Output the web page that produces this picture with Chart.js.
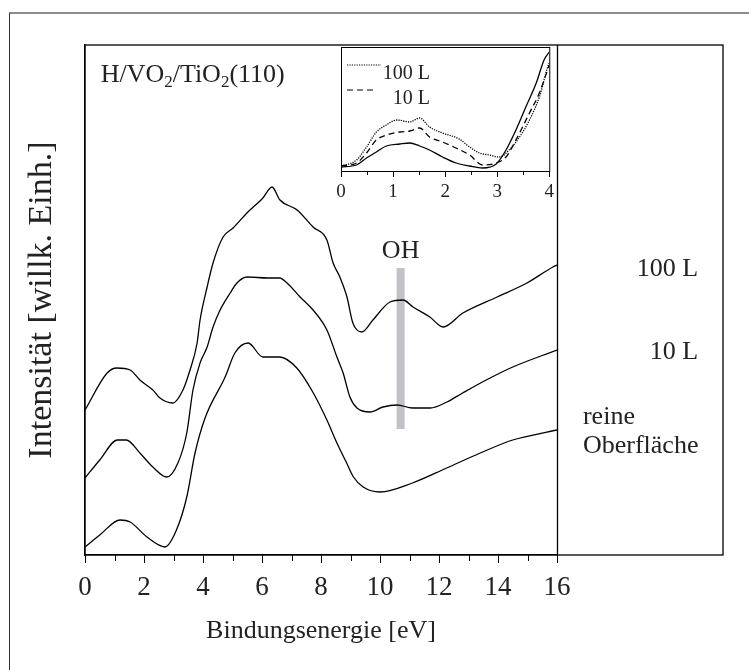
<!DOCTYPE html>
<html>
<head>
<meta charset="utf-8">
<script src="https://cdn.jsdelivr.net/npm/chart.js@4.4.1/dist/chart.umd.min.js"></script>
<style>
  body { margin: 0; background: #fff; }
  #wrap { position: relative; width: 749px; height: 670px; overflow: hidden; }
  #frame { position: absolute; left: 9px; top: 12px; right: 0; bottom: 0;
           border-top: 2px solid #8c8c8c; border-left: 1px solid #333; }
  #main { position: absolute; left: 0; top: 0; }
  #inset { position: absolute; left: 330px; top: 40px; }
</style>
</head>
<body>
<div id="wrap">
  <div id="frame"></div>
  <canvas id="main" width="749" height="670"></canvas>
  <canvas id="inset" width="228" height="170"></canvas>
</div>
<script>
// main spectra (energy in eV, intensity in arb. units, curves already offset)
const energyClean = [0, 0.5, 1.19, 1.53, 2.1, 2.71, 3.1, 3.45, 3.73, 4.07, 4.75, 5.08, 5.53, 6.03, 6.6, 7.18, 7.74, 8.2, 8.54, 8.87, 9.1, 9.43, 10.0, 11.1, 12.26, 13.4, 14.5, 16];
const intensityClean = [8, 20, 35, 33, 18, 8, 25, 58, 102, 137, 178, 202, 212, 198, 198, 187, 162, 135, 112, 92, 78, 68, 63, 72, 87, 102, 115, 125];

const energy10L = [0, 0.5, 1.1, 1.4, 1.86, 2.3, 2.77, 3.15, 3.45, 3.66, 3.9, 4.14, 4.34, 4.58, 4.92, 5.15, 5.49, 6.2, 6.6, 6.85, 7.29, 7.73, 8.2, 8.54, 8.75, 8.98, 9.22, 9.66, 10.1, 10.58, 11.1, 11.7, 12.27, 12.8, 13.6, 14.5, 16];
const intensity10L = [77, 95, 115, 115, 102, 88, 78, 92, 122, 165, 192, 208, 228, 245, 262, 272, 278, 277, 277, 272, 258, 245, 225, 198, 182, 158, 147, 143, 148, 150, 147, 147, 153, 162, 175, 188, 205];

const energy100L = [0, 0.75, 1.08, 1.53, 1.86, 2.3, 2.54, 2.98, 3.32, 3.56, 3.8, 3.9, 4.14, 4.34, 4.68, 5.02, 5.49, 6.03, 6.34, 6.61, 7.19, 7.73, 8.2, 8.41, 8.64, 8.88, 9.08, 9.39, 9.76, 10.34, 10.78, 11.12, 11.69, 12.14, 12.81, 13.97, 14.98, 15.86, 16];
const intensity100L = [145, 182, 187, 185, 175, 165, 157, 152, 165, 185, 212, 235, 268, 292, 318, 327, 342, 357, 368, 355, 345, 328, 315, 292, 278, 258, 232, 223, 235, 253, 255, 248, 238, 228, 242, 258, 272, 288, 290];

const xMajorTicks = [0, 2, 4, 6, 8, 10, 12, 14, 16];
const xMinorTicks = [1, 3, 5, 7, 9, 11, 13, 15];
const labelPanelEnd = 21.63; // right edge of the label panel, in eV units

// OH marker (energy, intensity range)
const ohEnergy = 10.7;
const ohRange = [126, 287];

// inset: valence band region, not offset
const insetEnergyClean = [0, 0.3, 0.49, 0.68, 0.87, 1.13, 1.32, 1.51, 1.7, 1.95, 2.21, 2.47, 2.72, 2.98, 3.17, 3.36, 3.55, 3.75, 3.9, 4];
const insetClean = [4, 6, 13, 19, 25, 27, 28, 25, 21, 14, 8, 5, 3, 7, 21, 41, 64, 88, 111, 119];
const insetEnergy10L = [0, 0.3, 0.49, 0.68, 0.87, 1.13, 1.32, 1.51, 1.7, 1.95, 2.21, 2.47, 2.72, 2.98, 3.17, 3.36, 3.62, 3.81, 4];
const inset10L = [5, 8, 18, 31, 36, 39, 40, 43, 34, 29, 23, 16, 6, 8, 14, 31, 58, 78, 106];
const insetEnergy100L = [0, 0.3, 0.49, 0.68, 0.87, 1.07, 1.32, 1.51, 1.7, 1.95, 2.27, 2.47, 2.66, 2.85, 3.04, 3.23, 3.43, 3.62, 3.81, 3.97, 4];
const inset100L = [5, 11, 24, 39, 46, 51, 49, 53, 44, 38, 32, 24, 18, 16, 14, 21, 34, 51, 74, 104, 108];
const insetMajorTicks = [0, 1, 2, 3, 4];
const insetMinorTicks = [0.5, 1.5, 2.5, 3.5];

const serif = '"Liberation Serif", "Times New Roman", serif';

function pts(xs, ys) {
  return xs.map((x, i) => ({ x: x, y: ys[i] }));
}

function lineSet(label, xs, ys, dash) {
  return {
    label: label,
    data: pts(xs, ys),
    borderColor: '#000',
    borderWidth: 1.3,
    borderDash: dash || [],
    pointRadius: 0,
    fill: false,
    cubicInterpolationMode: 'monotone'
  };
}

// draws frame + label panel, minor ticks, OH bar and all free text of the main plot
const mainDecor = {
  id: 'mainDecor',
  beforeDatasetsDraw(chart) {
    const ctx = chart.ctx;
    const xs = chart.scales.x, ys = chart.scales.y;
    const x0 = xs.getPixelForValue(ohEnergy);
    ctx.save();
    ctx.fillStyle = '#c2c2c6';
    ctx.fillRect(x0 - 4, ys.getPixelForValue(ohRange[1]), 8,
      ys.getPixelForValue(ohRange[0]) - ys.getPixelForValue(ohRange[1]));
    ctx.restore();
  },
  afterDraw(chart) {
    const ctx = chart.ctx;
    const a = chart.chartArea;
    const xs = chart.scales.x, ys = chart.scales.y;
    const xEnd = Math.round(xs.getPixelForValue(labelPanelEnd));
    ctx.save();
    ctx.strokeStyle = '#000';
    ctx.lineWidth = 1.3;
    ctx.strokeRect(a.left, a.top, xEnd - a.left, a.bottom - a.top);
    const x16 = Math.round(xs.getPixelForValue(16)) + 0.5;
    ctx.beginPath();
    ctx.moveTo(x16, a.top);
    ctx.lineTo(x16, a.bottom);
    ctx.stroke();
    ctx.lineWidth = 1;
    xMinorTicks.forEach(v => {
      const px = Math.round(xs.getPixelForValue(v)) + 0.5;
      ctx.beginPath();
      ctx.moveTo(px, a.bottom);
      ctx.lineTo(px, a.bottom + 6);
      ctx.stroke();
    });

    ctx.fillStyle = '#222';
    ctx.font = '26px ' + serif;
    ctx.textBaseline = 'alphabetic';

    // OH label
    ctx.textAlign = 'center';
    ctx.fillText('OH', xs.getPixelForValue(ohEnergy), ys.getPixelForValue(297));

    // curve labels on the right
    ctx.textAlign = 'right';
    ctx.fillText('100 L', xs.getPixelForValue(20.78), ys.getPixelForValue(279));
    ctx.fillText('10 L', xs.getPixelForValue(20.78), ys.getPixelForValue(196));
    ctx.textAlign = 'left';
    ctx.fillText('reine', xs.getPixelForValue(16.88), ys.getPixelForValue(131));
    ctx.fillText('Oberfläche', xs.getPixelForValue(16.88), ys.getPixelForValue(102));

    // sample name with subscripts
    let tx = xs.getPixelForValue(0.53);
    const ty = ys.getPixelForValue(473);
    const parts = [['H/VO', 0], ['2', 1], ['/TiO', 0], ['2', 1], ['(110)', 0]];
    parts.forEach(p => {
      ctx.font = (p[1] ? '17px ' : '26px ') + serif;
      ctx.fillText(p[0], tx, ty + (p[1] ? 5 : 0));
      tx += ctx.measureText(p[0]).width;
    });
    ctx.restore();
  }
};

new Chart(document.getElementById('main'), {
  type: 'line',
  data: {
    datasets: [
      lineSet('reine Oberfläche', energyClean, intensityClean),
      lineSet('10 L', energy10L, intensity10L),
      lineSet('100 L', energy100L, intensity100L)
    ]
  },
  options: {
    responsive: false,
    devicePixelRatio: 1,
    animation: false,
    layout: { padding: { top: 45, right: 192, left: 0, bottom: 0 } },
    plugins: { legend: { display: false }, tooltip: { enabled: false } },
    scales: {
      x: {
        type: 'linear',
        min: 0,
        max: 16,
        afterBuildTicks: s => { s.ticks = xMajorTicks.map(v => ({ value: v })); },
        afterFit: s => { s.height = 115; },
        grid: { drawOnChartArea: false, drawTicks: true, tickLength: 8, color: '#000', lineWidth: 1 },
        border: { display: true, color: '#000', width: 1.3 },
        ticks: { color: '#222', font: { family: serif, size: 27 }, padding: 9, maxRotation: 0 },
        title: { display: true, text: 'Bindungsenergie [eV]', color: '#222',
                 font: { family: serif, size: 26 }, padding: { bottom: 23 } }
      },
      y: {
        type: 'linear',
        min: 0,
        max: 510,
        afterFit: s => { s.width = 85; },
        grid: { display: false },
        border: { display: true, color: '#000', width: 1.3 },
        ticks: { display: false },
        title: { display: true, text: 'Intensität [willk. Einh.]', color: '#222',
                 font: { family: serif, size: 34 }, padding: { top: 22 } }
      }
    }
  },
  plugins: [mainDecor]
});

// inset frame, minor ticks and legend
const insetDecor = {
  id: 'insetDecor',
  afterDraw(chart) {
    const ctx = chart.ctx;
    const a = chart.chartArea;
    const xs = chart.scales.x;
    ctx.save();
    ctx.strokeStyle = '#000';
    ctx.lineWidth = 1;
    ctx.strokeRect(a.left + 0.5, a.top + 0.5, a.right - a.left, a.bottom - a.top);
    insetMinorTicks.forEach(v => {
      const px = Math.round(xs.getPixelForValue(v)) + 0.5;
      ctx.beginPath();
      ctx.moveTo(px, a.bottom);
      ctx.lineTo(px, a.bottom + 4);
      ctx.stroke();
    });
    // legend for dotted and dashed curves
    const items = [chart.data.datasets[2], chart.data.datasets[1]];
    const rows = [[17, 51, 25, 30, 35], [17, 43, 50, 55, 60]];
    ctx.font = '20px ' + serif;
    ctx.fillStyle = '#222';
    ctx.textAlign = 'right';
    items.forEach((ds, i) => {
      const r = rows[i];
      ctx.beginPath();
      ctx.setLineDash(ds.borderDash);
      ctx.lineWidth = 1;
      ctx.moveTo(r[0], r[2]);
      ctx.lineTo(r[1], r[2]);
      ctx.stroke();
      ctx.setLineDash([]);
      ctx.fillText(ds.label, 100, r[3] + 0.5 * (r[4] - r[3]) + 6);
    });
    ctx.restore();
  }
};

new Chart(document.getElementById('inset'), {
  type: 'line',
  data: {
    datasets: [
      lineSet('reine Oberfläche', insetEnergyClean, insetClean),
      lineSet('10 L', insetEnergy10L, inset10L, [6, 4]),
      lineSet('100 L', insetEnergy100L, inset100L, [1.2, 1.2])
    ]
  },
  options: {
    responsive: false,
    devicePixelRatio: 1,
    animation: false,
    layout: { padding: { top: 7, right: 7, left: 11, bottom: 0 } },
    plugins: { legend: { display: false }, tooltip: { enabled: false } },
    scales: {
      x: {
        type: 'linear',
        min: 0,
        max: 4,
        afterBuildTicks: s => { s.ticks = insetMajorTicks.map(v => ({ value: v })); },
        afterFit: s => { s.height = 39; },
        grid: { drawOnChartArea: false, drawTicks: true, tickLength: 6, color: '#000', lineWidth: 1 },
        border: { display: true, color: '#000', width: 1 },
        ticks: { color: '#222', font: { family: serif, size: 19 }, padding: 4, maxRotation: 0 }
      },
      y: { type: 'linear', min: 0, max: 124, display: false }
    }
  },
  plugins: [insetDecor]
});
</script>
</body>
</html>
